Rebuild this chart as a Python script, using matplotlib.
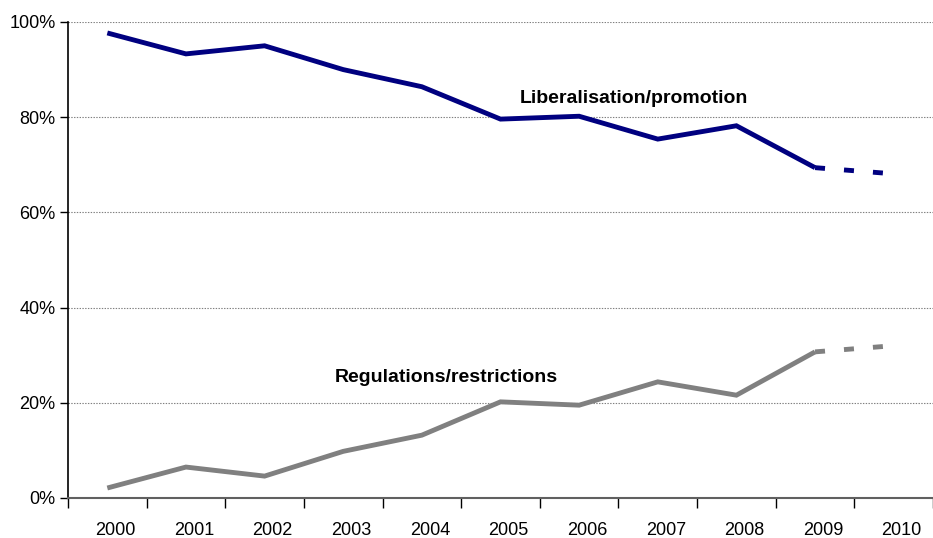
import matplotlib
matplotlib.use("Agg")
import matplotlib.pyplot as plt
import matplotlib.transforms as mtransforms
from matplotlib.ticker import FixedLocator, PercentFormatter

years = ["2000", "2001", "2002", "2003", "2004", "2005", "2006", "2007", "2008", "2009", "2010"]
liberal = [97.7, 93.3, 95.0, 90.0, 86.4, 79.6, 80.2, 75.4, 78.2, 69.4, 68.1]
restrict = [2.1, 6.5, 4.6, 9.8, 13.2, 20.2, 19.5, 24.4, 21.6, 30.7, 32.0]

plt.rcParams['font.family'] = ['Liberation Sans', 'DejaVu Sans']
plt.rcParams['lines.scale_dashes'] = False

W, H = 933, 538
fig = plt.figure(figsize=(W/100, H/100), dpi=100)
left, right_px, top, bottom = 68, 933, 22, 498
ax = fig.add_axes([left/W, 1 - bottom/H, (right_px-left)/W, (bottom-top)/H])

x = list(range(len(years)))
navy = "#000080"
gray = "#808080"
lw = 3.5
# solid part up to 2009
ax.plot(x[:10], liberal[:10], color=navy, lw=lw, solid_capstyle='butt', solid_joinstyle='miter', zorder=3)
ax.plot(x[:10], restrict[:10], color=gray, lw=lw, solid_capstyle='butt', solid_joinstyle='miter', zorder=3)
# dashed projection 2009-2010
ax.plot(x[9:], liberal[9:], color=navy, lw=lw, dashes=(7.2, 13.7), dash_capstyle='butt', zorder=3)
ax.plot(x[9:], restrict[9:], color=gray, lw=lw, dashes=(7.2, 13.7), dash_capstyle='butt', zorder=3)

ax.set_xlim(-0.5, -0.5 + (right_px - left) / 80.0)
ax.set_ylim(0, 100)

ax.yaxis.set_major_locator(FixedLocator([0, 20, 40, 60, 80, 100]))
ax.yaxis.set_major_formatter(PercentFormatter(decimals=0))
ax.grid(axis='y', color='#808080', linestyle=(0, (1, 1)), linewidth=0.8, zorder=1)

# x ticks at category boundaries, labels at centers
ax.set_xticks([i - 0.5 for i in range(len(years) + 1)])
ax.set_xticklabels([])
ax.set_xticks(x, minor=True)
ax.set_xticklabels(years, minor=True)
ax.tick_params(axis='x', which='major', direction='out', length=7, width=1, color='black')
ax.tick_params(axis='x', which='minor', length=0, pad=17, labelsize=13)
ax.tick_params(axis='y', direction='out', length=6, width=1, pad=3, labelsize=13, color='black')
offset = mtransforms.ScaledTranslation(8/100, 0, fig.dpi_scale_trans)
for lab in ax.get_xticklabels(minor=True):
    lab.set_transform(lab.get_transform() + offset)

for s in ['top', 'right']:
    ax.spines[s].set_visible(False)
ax.spines['left'].set_color('black')
ax.spines['left'].set_linewidth(1.2)
ax.spines['bottom'].set_color('#606060')
ax.spines['bottom'].set_linewidth(1.5)

ax.text(6.70, 84.0, "Liberalisation/promotion", ha='center', va='center',
        fontsize=14, fontweight='bold', color='#000000')
ax.text(4.31, 25.4, "Regulations/restrictions", ha='center', va='center',
        fontsize=14, fontweight='bold', color='#000000')

fig.savefig("out.png", dpi=100)
